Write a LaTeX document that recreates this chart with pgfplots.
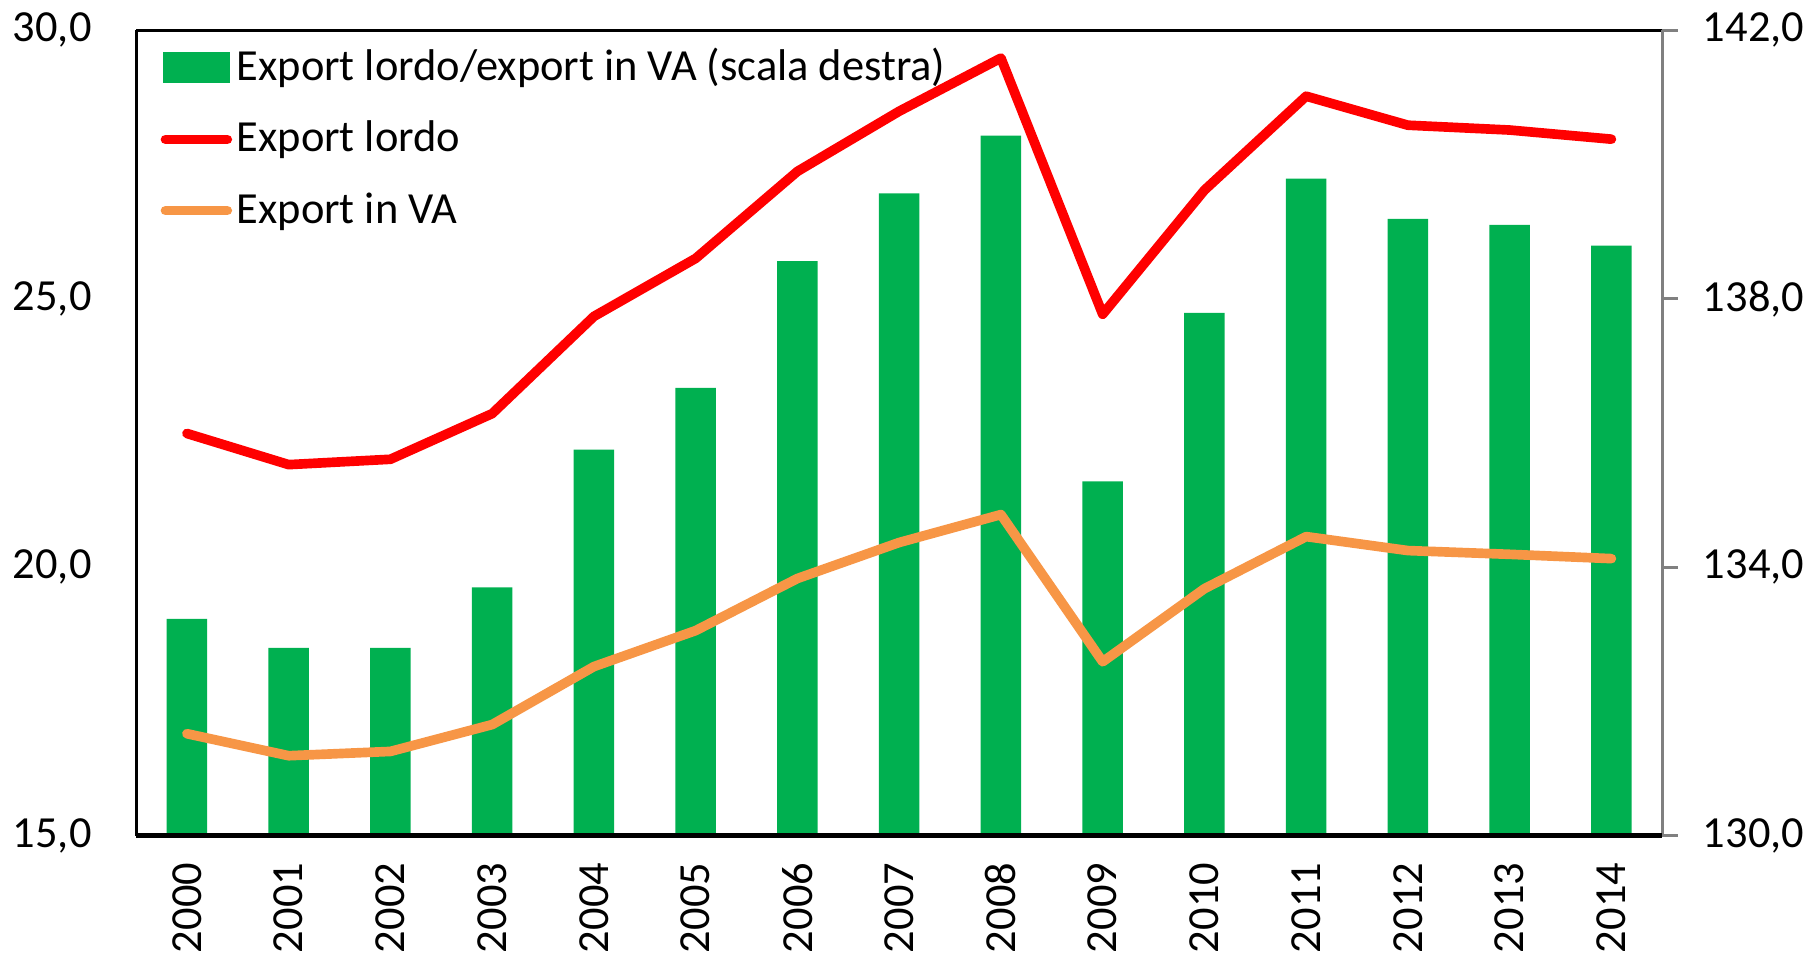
\documentclass[border=0pt]{standalone}
\usepackage{fontspec}
\setmainfont{Carlito}
\usepackage{pgfplots}
\pgfplotsset{compat=1.18}
\definecolor{bargreen}{HTML}{00B050}
\definecolor{linered}{HTML}{FF0000}
\definecolor{lineorange}{HTML}{F79646}

\pgfplotsset{
  common/.style={
    width=395pt, height=208.5pt, scale only axis,
    xmin=-0.5, xmax=14.5,
    tick label style={font=\fontsize{11.5pt}{13pt}\selectfont},
    /pgf/number format/.cd, use comma, fixed, fixed zerofill, precision=1,
    assume math mode=true,
  },
  linelegend/.style={legend image code/.code={\draw[##1] (0.5pt,0pt) -- (16.5pt,0pt);}},
  barlegend/.style={legend image code/.code={\fill[bargreen] (0pt,-3.8pt) rectangle (17pt,3.8pt);}},
}

\begin{document}
\begin{tikzpicture}
% bars on the right scale
\begin{axis}[
    common,
    ymin=130, ymax=142,
    ytick={130,134,138,142},
    axis y line*=right,
    axis x line*=top,
    xtick=\empty,
    x axis line style={black, line width=0.8pt},
    y axis line style={gray, line width=0.8pt},
    ytick style={gray, line width=0.8pt},
    major tick length=4pt,
    tick align=outside,
    yticklabel style={xshift=3pt},
]
\addplot[ybar, bar width=10.5pt, bar shift=0pt, fill=bargreen, draw=none] coordinates {
  (0,133.23) (1,132.80) (2,132.80) (3,133.70) (4,135.75) (5,136.67) (6,138.56)
  (7,139.57) (8,140.43) (9,135.28) (10,137.79) (11,139.79) (12,139.19) (13,139.10) (14,138.79)
};
\end{axis}
% lines on the left scale
\begin{axis}[
    common,
    ymin=15, ymax=30,
    ytick={15,20,25,30},
    axis y line*=left,
    axis x line*=bottom,
    x axis line style={black, line width=1.2pt},
    y axis line style={black, line width=0.8pt},
    major tick length=0pt,
    xtick={0,...,14},
    xticklabels={2000,2001,2002,2003,2004,2005,2006,2007,2008,2009,2010,2011,2012,2013,2014},
    xticklabel style={rotate=90, anchor=east, xshift=-3.5pt},
    yticklabel style={xshift=-8pt},
    legend cell align=left,
    legend style={
      at={(0.008,0.998)}, anchor=north west,
      draw=none, fill=none,
      font=\fontsize{11.5pt}{13pt}\selectfont,
      row sep=5pt,
      nodes={inner xsep=1.2pt},
    },
]
\addlegendimage{barlegend}
\addlegendentry{Export lordo/export in VA (scala destra)}
\addplot[linered, line width=2.5pt, line join=round, line cap=round, linelegend] coordinates {
  (0,22.49) (1,21.91) (2,22.01) (3,22.86) (4,24.67) (5,25.75) (6,27.37)
  (7,28.49) (8,29.48) (9,24.71) (10,27.02) (11,28.77) (12,28.23) (13,28.14) (14,27.97)
};
\addlegendentry{Export lordo}
\addplot[lineorange, line width=2.5pt, line join=round, line cap=round, linelegend] coordinates {
  (0,16.90) (1,16.49) (2,16.57) (3,17.07) (4,18.15) (5,18.82) (6,19.79)
  (7,20.46) (8,20.98) (9,18.24) (10,19.60) (11,20.57) (12,20.31) (13,20.24) (14,20.16)
};
\addlegendentry{Export in VA}
\end{axis}
\end{tikzpicture}
\end{document}
